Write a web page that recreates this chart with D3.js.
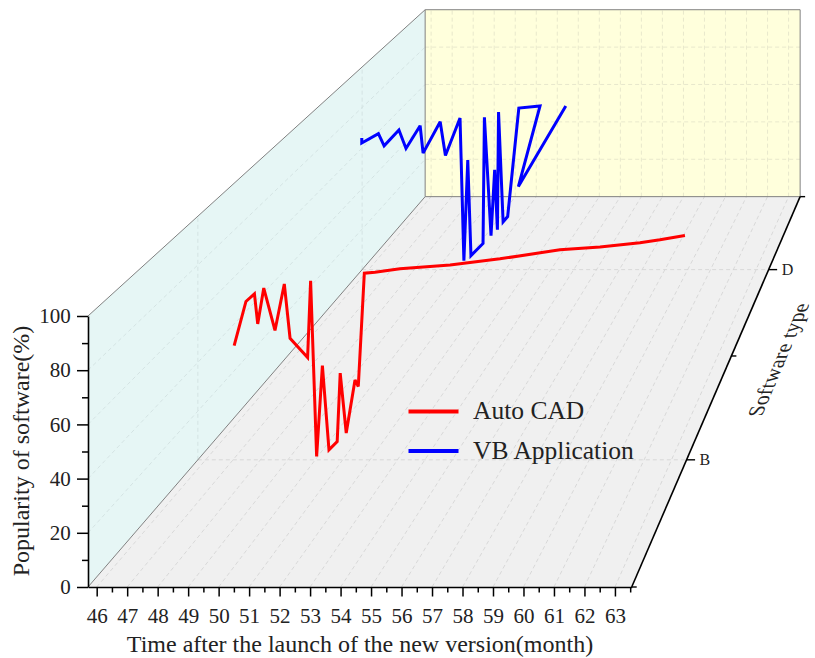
<!DOCTYPE html>
<html>
<head>
<meta charset="utf-8">
<script src="https://cdn.jsdelivr.net/npm/d3@7"></script>
<style>
  html, body { margin: 0; padding: 0; background: #ffffff; }
  svg { display: block; }
  text { font-family: "Liberation Serif", "Times New Roman", serif; fill: #222; }
</style>
</head>
<body>
<svg id="chart" width="815" height="658"></svg>
<script>
// ---------------- DATA ----------------
const timeDomain = [45.715, 63.55];
const monthTicks = [46,47,48,49,50,51,52,53,54,55,56,57,58,59,60,61,62,63];
const popularityTicks = [0,20,40,60,80,100];
const softwareTypes = ["A","B","C","D","E"];
const labelledTypes = ["B","D"];

const seriesNames = ["Auto CAD","VB Application"];
const seriesColors = ["#ff0000","#0000ff"];
const seriesType = ["B","D"];

const autocadTime = [47.04,47.47,47.78,47.90,48.12,48.53,48.87,49.08,49.72,49.83,50.05,50.26,50.50,50.80,50.91,51.13,51.45,51.57,51.79,52.18,53.09,54.92,56.74,58.93,60.39,61.85,62.58,63.49];
const autocadValue = [46.9,65.0,68.1,55.8,70.5,53.1,72.2,49.9,42.0,73.5,1.4,38.7,4.1,7.5,35.6,11.0,32.8,30.1,76.6,77.0,78.4,80.0,82.5,86.2,87.4,89.1,90.3,92.1];

const vbTime = [45.70,45.70,46.43,46.68,47.33,47.64,48.26,48.39,49.14,49.37,50.01,50.18,50.35,50.49,51.02,51.08,51.37,51.53,51.65,51.70,51.90,52.10,52.59,53.52,52.57,54.65];
const vbValue = [64.9,62.5,67.1,61.1,68.9,59.8,71.0,57.5,73.0,56.3,74.8,4.4,54.1,6.9,12.9,75.2,16.7,49.3,19.7,77.8,23.6,26.2,79.7,80.8,41.0,80.8];

// ---------------- LAYOUT ----------------
const svg = d3.select("#chart");
const FRONT_L = 88, FRONT_R = 631.7, FRONT_B = 587, FRONT_T = 316;
const BACK_SCALE = 0.6897;           // size of back face relative to front face
const K = 1 / BACK_SCALE - 1;
const VX = 1174.5, VY = -671;        // vanishing point

const x = d3.scaleLinear().domain(timeDomain).range([FRONT_L, FRONT_R]);
const y = d3.scaleLinear().domain([0, 100]).range([FRONT_B, FRONT_T]);
const z = d3.scalePoint().domain(softwareTypes).range([0, 1]);

function proj(t, v, depth) {
  const s = 1 / (1 + K * depth);
  return [VX + (x(t) - VX) * s, VY + (y(v) - VY) * s];
}
const tMin = timeDomain[0], tMax = timeDomain[1];

function poly(pts, fill, stroke) {
  svg.append("path")
    .attr("d", "M" + pts.map(p => p.join(",")).join("L") + "Z")
    .attr("fill", fill)
    .attr("stroke", stroke || "none")
    .attr("stroke-width", 1);
}
function seg(a, b, stroke, w, dash) {
  svg.append("line")
    .attr("x1", a[0]).attr("y1", a[1]).attr("x2", b[0]).attr("y2", b[1])
    .attr("stroke", stroke).attr("stroke-width", w)
    .attr("stroke-dasharray", dash || null);
}

// Planes
poly([proj(tMin,0,0), proj(tMax,0,0), proj(tMax,0,1), proj(tMin,0,1)], "#f0f0f0");
poly([proj(tMin,0,0), proj(tMin,100,0), proj(tMin,100,1), proj(tMin,0,1)], "#e6f6f5");
poly([proj(tMin,0,1), proj(tMin,100,1), proj(tMax,100,1), proj(tMax,0,1)], "#ffffdc");

// Grid lines
const gridC = "#d2d2d2", gridDash = "4,3";
monthTicks.forEach(m => {
  seg(proj(m,0,0), proj(m,0,1), gridC, 0.8, gridDash);        // floor
  seg(proj(m,0,1), proj(m,100,1), "#e2e2c8", 0.8, gridDash);  // back wall
});
popularityTicks.filter(v => v > 0 && v < 100).forEach(v => {
  seg(proj(tMin,v,0), proj(tMin,v,1), "#cfdede", 0.8, gridDash); // left wall
  seg(proj(tMin,v,1), proj(tMax,v,1), "#e2e2c8", 0.8, gridDash); // back wall
});
labelledTypes.forEach(c => {
  seg(proj(tMin,0,z(c)), proj(tMax,0,z(c)), gridC, 0.8, gridDash);  // floor
  seg(proj(tMin,0,z(c)), proj(tMin,100,z(c)), "#cfdede", 0.8, gridDash); // left wall
});

// Plane edges
const edgeC = "#808080";
seg(proj(tMin,0,0), proj(tMin,0,1), edgeC, 1);
seg(proj(tMin,100,0), proj(tMin,100,1), edgeC, 1);
poly([proj(tMin,0,1), proj(tMin,100,1), proj(tMax,100,1), proj(tMax,0,1)], "none", edgeC);

// Series lines
const series = [
  {name: seriesNames[1], color: seriesColors[1], type: seriesType[1], t: vbTime, v: vbValue},
  {name: seriesNames[0], color: seriesColors[0], type: seriesType[0], t: autocadTime, v: autocadValue}
];
series.forEach(s => {
  const depth = z(s.type);
  const pts = s.t.map((t, i) => proj(t, s.v[i], depth));
  svg.append("path")
    .attr("d", d3.line()(pts))
    .attr("fill", "none")
    .attr("stroke", s.color)
    .attr("stroke-width", 3)
    .attr("stroke-linejoin", "miter")
    .attr("stroke-miterlimit", 3);
});

// X axis (front face)
const minorMonths = monthTicks.map(m => m + 0.5).filter(m => m <= tMax);
const gx = svg.append("g").attr("transform", `translate(0,${FRONT_B})`);
gx.call(d3.axisBottom(x).tickValues(minorMonths).tickSize(5.5).tickFormat("").tickSizeOuter(0));
gx.call(g => g.select(".domain").remove());
const gx2 = svg.append("g").attr("transform", `translate(0,${FRONT_B})`);
gx2.call(d3.axisBottom(x).tickValues(monthTicks).tickSize(9.5).tickPadding(11.6).tickSizeOuter(0).tickFormat(d3.format("d")));
[gx, gx2].forEach(g => {
  g.selectAll("line").attr("stroke", "#000").attr("stroke-width", 1.5);
  g.selectAll("path").attr("stroke", "#000").attr("stroke-width", 1.6);
  g.selectAll("text").style("font-family", "Liberation Serif").style("font-size", "21px").attr("fill", "#222");
});

// Y axis (front face)
const minorPop = [10,30,50,70,90];
const gy = svg.append("g").attr("transform", `translate(${FRONT_L},0)`);
gy.call(d3.axisLeft(y).tickValues(minorPop).tickSize(6).tickFormat("").tickSizeOuter(0));
gy.call(g => g.select(".domain").remove());
const gy2 = svg.append("g").attr("transform", `translate(${FRONT_L},0)`);
gy2.call(d3.axisLeft(y).tickValues(popularityTicks).tickSize(11).tickPadding(6.3).tickSizeOuter(0));
[gy, gy2].forEach(g => {
  g.selectAll("line").attr("stroke", "#000").attr("stroke-width", 1.5);
  g.selectAll("path").attr("stroke", "#000").attr("stroke-width", 1.6);
  g.selectAll("text").style("font-family", "Liberation Serif").style("font-size", "21px").attr("fill", "#222");
});

// Depth axis (right floor edge)
seg(proj(tMax,0,0), proj(tMax,0,1), "#000", 1.6);
softwareTypes.forEach(c => {
  const p = proj(tMax, 0, z(c));
  const major = labelledTypes.includes(c);
  const len = major ? 8.5 : 5;
  seg(p, [p[0] + len, p[1]], "#000", 1.4);
  if (major) {
    svg.append("text")
      .attr("x", p[0] + len + 4.5).attr("y", p[1])
      .attr("dy", "0.35em")
      .style("font-size", "16px")
      .text(c);
  }
});

// Axis titles
svg.append("text")
  .attr("x", 360).attr("y", 652)
  .attr("text-anchor", "middle")
  .style("font-size", "24px")
  .text("Time after the launch of the new version(month)");
svg.append("text")
  .attr("transform", "translate(29,451) rotate(-90)")
  .attr("text-anchor", "middle")
  .style("font-size", "24px")
  .text("Popularity of software(%)");
// sheared text: baseline follows the depth axis, glyphs stay vertical
svg.append("text")
  .attr("transform", "matrix(0.391,-0.921,1,0,778,360)")
  .attr("text-anchor", "middle")
  .attr("dy", "0.35em")
  .style("font-size", "22px")
  .text("Software type");

// Legend
const legend = svg.append("g");
seriesNames.forEach((n, i) => {
  const yy = 411.5 + i * 39.5;
  legend.append("line")
    .attr("x1", 408.5).attr("x2", 458.5).attr("y1", yy).attr("y2", yy)
    .attr("stroke", seriesColors[i]).attr("stroke-width", 4);
  legend.append("text")
    .attr("x", 473).attr("y", yy + 7.5)
    .style("font-size", "25.5px")
    .text(n);
});
</script>
</body>
</html>
